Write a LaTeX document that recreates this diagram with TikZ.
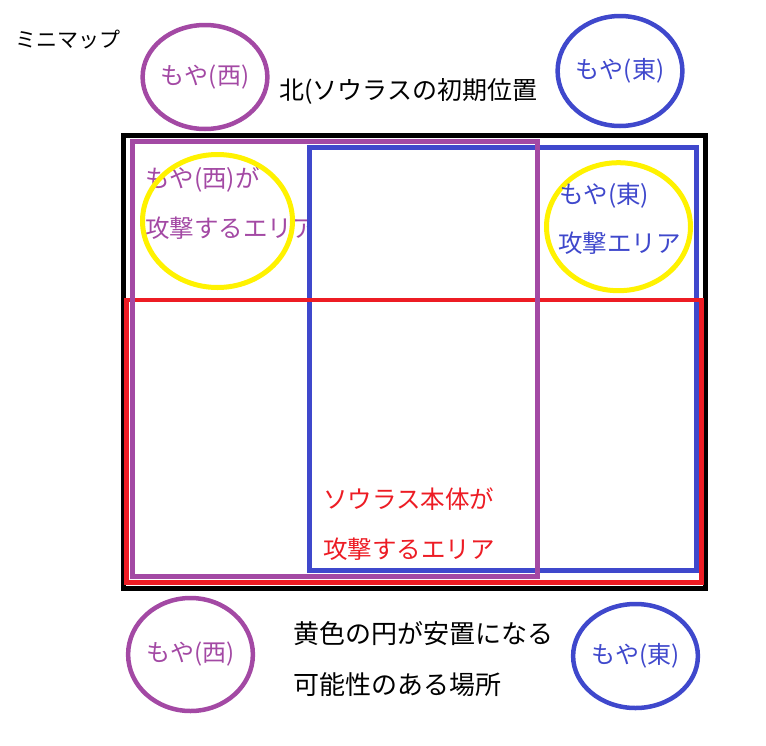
\documentclass[tikz,border=0pt]{standalone}
\usepackage{fontspec}
\setmainfont{Noto Sans CJK JP}
\usetikzlibrary{shapes.geometric}
\definecolor{moyawest}{HTML}{A349A4}
\definecolor{moyaeast}{HTML}{3F48CC}
\definecolor{sourared}{HTML}{ED1C24}
\definecolor{safeyellow}{HTML}{FFF200}
\tikzset{
    moya/.style={ellipse,draw,line width=4.5pt,inner sep=0pt,font=\fontsize{24}{24}\selectfont},
    label24/.style={inner sep=0pt,anchor=west,font=\fontsize{24.5}{24.5}\selectfont},
    label26/.style={inner sep=0pt,anchor=west,font=\fontsize{26}{26}\selectfont},
    area/.style={line width=5pt},
}
\begin{document}
\begin{tikzpicture}[x=1pt,y=-1pt]
    \useasboundingbox (0,0) rectangle (766,745);
    \node[inner sep=0pt,anchor=west,font=\fontsize{21}{21}\selectfont] (minimap) at (15,40) {ミニマップ};
    \node[moya,moyawest,minimum width=110pt,minimum height=104pt] (westtop) at (205,77) {もや(西)};
    \node[moya,moyaeast,minimum width=112pt,minimum height=110pt] (easttop) at (620,71) {もや(東)};
    \node[label24,font=\fontsize{25}{25}\selectfont] (north) at (279,91) {北(ソウラスの初期位置};
    \draw[area,black] (123.5,135.7) rectangle (705.7,588);
    \node[label24,moyawest] (westarea1) at (145,180) {もや(西)が};
    \node[label24,moyawest] (westarea2) at (145,228) {攻撃するエリア};
    \draw[area,moyaeast,fill=white] (309.3,147.5) rectangle (696.5,570);
    \draw[area,sourared,line width=4.7pt] (126.5,300) rectangle (701.7,582.5);
    \draw[area,moyawest] (132.5,141.5) rectangle (537.5,576.5);
    \draw[area,safeyellow] (217.5,221) ellipse [x radius=75,y radius=66.5];
    \draw[area,safeyellow] (618.5,226.7) ellipse [x radius=72,y radius=64];
    \node[label24,moyaeast] (eastarea1) at (559,196) {もや(東)};
    \node[label24,moyaeast] (eastarea2) at (558,243) {攻撃エリア};
    \node[label24,sourared] (soura1) at (323,499) {ソウラス本体が};
    \node[label24,sourared] (soura2) at (323,549) {攻撃するエリア};
    \node[moya,moyawest,minimum width=121pt,minimum height=113pt] (westbottom) at (190.5,654.5) {もや(西)};
    \node[moya,moyaeast,minimum width=115pt,minimum height=104pt] (eastbottom) at (635.5,656) {もや(東)};
    \node[label26] (note1) at (293,634) {黄色の円が安置になる};
    \node[label26] (note2) at (293,684.5) {可能性のある場所};
\end{tikzpicture}
\end{document}
